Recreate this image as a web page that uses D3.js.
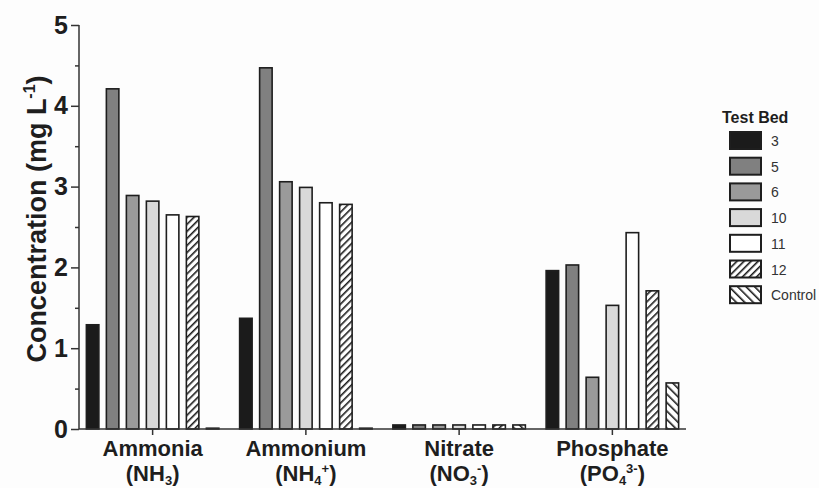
<!DOCTYPE html>
<html>
<head>
<meta charset="utf-8">
<script src="https://cdn.jsdelivr.net/npm/d3@7"></script>
<style>
  html, body { margin: 0; padding: 0; background: #fdfdfd; }
  svg { display: block; font-family: "Liberation Sans", Arial, sans-serif; }
</style>
</head>
<body>
<svg id="chart" width="819" height="488"></svg>
<script>
// ---- data ----
const categories = ["Ammonia", "Ammonium", "Nitrate", "Phosphate"];
const seriesNames = ["3", "5", "6", "10", "11", "12", "Control"];
const bed3     = [1.29, 1.37, 0.05, 1.96];
const bed5     = [4.21, 4.47, 0.05, 2.03];
const bed6     = [2.89, 3.06, 0.05, 0.64];
const bed10    = [2.82, 2.99, 0.05, 1.53];
const bed11    = [2.65, 2.80, 0.05, 2.43];
const bed12    = [2.63, 2.78, 0.05, 1.71];
const bedCtrl  = [0.01, 0.01, 0.05, 0.57];
const yTicks = [0, 1, 2, 3, 4, 5];
const yMinorTicks = [0.5, 1.5, 2.5, 3.5, 4.5];
// label parts: [main, sub, sup]
const catLabel2 = [["(NH", "3", ""], ["(NH", "4", "+"], ["(NO", "3", "-"], ["(PO", "4", "3-"]];

const seriesValues = [bed3, bed5, bed6, bed10, bed11, bed12, bedCtrl];
const fills = ["#1b1b1b", "#808080", "#9a9a9a", "#d9d9d9", "#ffffff", "url(#hatch12)", "url(#hatchCtrl)"];

const svg = d3.select("#chart");
svg.append("rect").attr("width", 819).attr("height", 488).attr("fill", "#fdfdfd");

// patterns
const defs = svg.append("defs");
const p12 = defs.append("pattern").attr("id", "hatch12").attr("patternUnits", "userSpaceOnUse")
  .attr("width", 5).attr("height", 5).attr("patternTransform", "rotate(45)");
p12.append("rect").attr("width", 5).attr("height", 5).attr("fill", "#fff");
p12.append("line").attr("x1", 0).attr("y1", 0).attr("x2", 0).attr("y2", 5)
  .attr("stroke", "#1b1b1b").attr("stroke-width", 3.2);
const pc = defs.append("pattern").attr("id", "hatchCtrl").attr("patternUnits", "userSpaceOnUse")
  .attr("width", 6).attr("height", 6).attr("patternTransform", "rotate(-45)");
pc.append("rect").attr("width", 6).attr("height", 6).attr("fill", "#fff");
pc.append("line").attr("x1", 0).attr("y1", 0).attr("x2", 0).attr("y2", 6)
  .attr("stroke", "#1b1b1b").attr("stroke-width", 3.2);

// scales
const y = d3.scaleLinear().domain([0, 5]).range([429, 25]);
const x0 = d3.scaleBand().domain(categories).range([76, 689]).padding(0);
const x1 = d3.scaleBand().domain(seriesNames).range([-70, 70]).paddingInner(0.375).paddingOuter(0.1875);

// bars
const rows = [];
categories.forEach((c, j) => {
  seriesNames.forEach((s, i) => rows.push({ cat: c, s: s, v: seriesValues[i][j], fill: fills[i] }));
});
svg.append("g").selectAll("rect").data(rows).join("rect")
  .attr("x", d => x0(d.cat) + x0.bandwidth() / 2 + x1(d.s))
  .attr("y", d => y(d.v))
  .attr("width", x1.bandwidth())
  .attr("height", d => y(0) - y(d.v))
  .attr("fill", d => d.fill)
  .attr("stroke", "#1e1e1e")
  .attr("stroke-width", 1.6);

// y axis
const yAxis = svg.append("g").attr("transform", "translate(79,0)")
  .call(d3.axisLeft(y).tickValues(yTicks).tickSize(8).tickPadding(3).tickFormat(d3.format("d")));
yAxis.selectAll("text").attr("font-size", 25).attr("font-weight", "bold").attr("fill", "#1e1e1e")
  .attr("font-family", "'Liberation Sans', Arial, sans-serif");
yAxis.select(".domain").attr("stroke", "#333").attr("stroke-width", 1.5).attr("d", "M0,25V429");
yAxis.selectAll(".tick line").attr("stroke", "#333").attr("stroke-width", 1.5);
const yMinor = svg.append("g").attr("transform", "translate(79,0)")
  .call(d3.axisLeft(y).tickValues(yMinorTicks).tickSize(4).tickFormat(""));
yMinor.select(".domain").remove();
yMinor.selectAll(".tick line").attr("stroke", "#333").attr("stroke-width", 1.5);

// x axis
const xAxis = svg.append("g").attr("transform", "translate(0,429)")
  .call(d3.axisBottom(x0).tickSize(6).tickFormat(""));
xAxis.select(".domain").attr("stroke", "#333").attr("stroke-width", 1.5).attr("d", "M79,0H686");
xAxis.selectAll(".tick line").attr("stroke", "#333").attr("stroke-width", 1.5);

// x category labels
const lab = svg.append("g").attr("font-weight", "bold").attr("fill", "#1e1e1e").attr("text-anchor", "middle");
categories.forEach((c, j) => {
  const cx = x0(c) + x0.bandwidth() / 2;
  lab.append("text").attr("x", cx).attr("y", 456).attr("font-size", 22).text(c);
  const parts = catLabel2[j];
  const t = lab.append("text").attr("x", cx).attr("y", 481).attr("font-size", 22);
  t.append("tspan").text(parts[0]);
  t.append("tspan").attr("font-size", 13).attr("dy", 4).text(parts[1]);
  if (parts[2]) t.append("tspan").attr("font-size", 13).attr("dy", -12).text(parts[2]);
  t.append("tspan").attr("font-size", 22).attr("dy", parts[2] ? 8 : -4).text(")");
});

// y label
const yl = svg.append("text").attr("transform", "translate(46,219) rotate(-90)")
  .attr("text-anchor", "middle").attr("font-weight", "bold").attr("font-size", 27).attr("fill", "#1e1e1e");
yl.append("tspan").text("Concentration (mg L");
yl.append("tspan").attr("font-size", 16).attr("dy", -11).text("-1");
yl.append("tspan").attr("dy", 11).text(")");

// legend
const lg = svg.append("g");
lg.append("text").attr("x", 722).attr("y", 123).attr("font-size", 16).attr("font-weight", "bold")
  .attr("fill", "#1e1e1e").text("Test Bed");
seriesNames.forEach((s, i) => {
  const yy = 132 + i * 25.7;
  lg.append("rect").attr("x", 730).attr("y", yy).attr("width", 31).attr("height", 17)
    .attr("fill", fills[i]).attr("stroke", "#1e1e1e").attr("stroke-width", 2);
  lg.append("text").attr("x", 771).attr("y", yy + 14).attr("font-size", 14).attr("fill", "#333").text(s);
});
</script>
</body>
</html>
